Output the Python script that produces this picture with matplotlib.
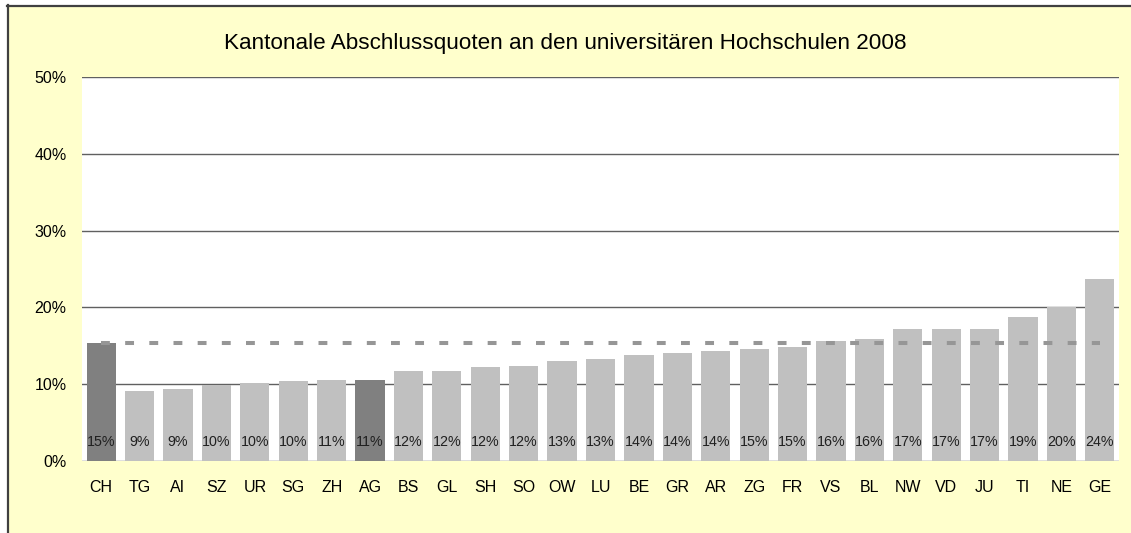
import matplotlib
matplotlib.use("Agg")
import matplotlib.pyplot as plt
from matplotlib.patches import Rectangle
from matplotlib.lines import Line2D

plt.rcParams['font.family'] = ['Liberation Sans', 'DejaVu Sans']

# data (percent)
kantone = ['CH', 'TG', 'AI', 'SZ', 'UR', 'SG', 'ZH', 'AG', 'BS', 'GL', 'SH', 'SO', 'OW', 'LU',
           'BE', 'GR', 'AR', 'ZG', 'FR', 'VS', 'BL', 'NW', 'VD', 'JU', 'TI', 'NE', 'GE']
quoten = [15.4, 9.1, 9.4, 9.9, 10.2, 10.4, 10.6, 10.6, 11.7, 11.7, 12.2, 12.4, 13.0, 13.3,
          13.8, 14.1, 14.3, 14.6, 14.8, 15.6, 15.9, 17.2, 17.2, 17.2, 18.7, 20.0, 23.7]
hervorgehoben = ['CH', 'AG']
ch_mittel = 15.3
yticks = [0, 10, 20, 30, 40, 50]

W, H = 1131, 533
fig = plt.figure(figsize=(W / 100, H / 100), dpi=100)
fig.patch.set_facecolor('white')

# yellow chart area with dark border on left/top
fig.patches.append(Rectangle((8 / W, 0), 1, 1 - 6 / H, transform=fig.transFigure,
                             facecolor='#FFFFCC', edgecolor='none', zorder=-10))
fig.lines.append(Line2D([7.5 / W, 7.5 / W], [0, 1 - 5 / H], transform=fig.transFigure,
                        color='#404040', linewidth=1.6, zorder=-5))
fig.lines.append(Line2D([7 / W, 1], [1 - 5.5 / H, 1 - 5.5 / H], transform=fig.transFigure,
                        color='#404040', linewidth=1.6, zorder=-5))

ax = fig.add_axes([82 / W, (H - 461) / H, (1119 - 82) / W, (461 - 77) / H])
ax.set_facecolor('white')

x = range(len(kantone))
farben = ['#808080' if k in hervorgehoben else '#C0C0C0' for k in kantone]
ax.bar(x, quoten, width=0.76, color=farben, zorder=2)

# Schweizer Durchschnitt als gestrichelte Linie
ax.plot(x, [ch_mittel] * len(kantone), color='#969696', linewidth=2.9,
        dashes=(2.2, 3.8), dash_capstyle='butt', zorder=3)

for i, v in zip(x, quoten):
    ax.text(i, 2.5, f"{v:.0f}%", ha='center', va='center', fontsize=10.3,
            color='#202020', zorder=4)

ax.set_xlim(-0.5, len(kantone) - 0.5)
ax.set_ylim(0, 50)
ax.set_yticks(yticks)
ax.set_yticklabels([f"{t}%" for t in yticks])
ax.set_xticks(list(x))
ax.set_xticklabels(kantone)
ax.tick_params(axis='y', length=0, pad=11, labelsize=11.5, labelcolor='black')
ax.tick_params(axis='x', length=0, pad=14, labelsize=11.5, labelcolor='black')
ax.grid(axis='y', color='#606060', linewidth=1)
ax.set_axisbelow(True)
for s in ax.spines.values():
    s.set_visible(False)

fig.text(0.5, 1 - 43 / H, 'Kantonale Abschlussquoten an den universitären Hochschulen 2008',
         ha='center', va='center', fontsize=16.2)

fig.savefig('out.png', dpi=100, facecolor=fig.get_facecolor())
